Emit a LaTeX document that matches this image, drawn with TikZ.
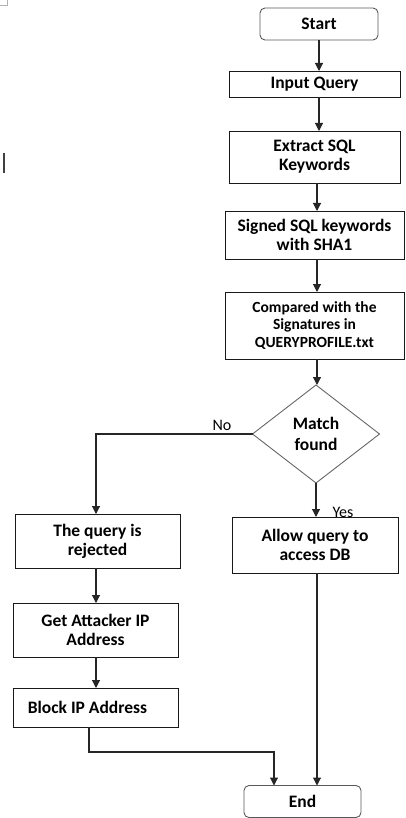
\documentclass[tikz,border=0pt]{standalone}
\usepackage{fontspec}
\setmainfont{Carlito}
\usetikzlibrary{shapes.geometric,arrows.meta}
\begin{document}
\begin{tikzpicture}[x=1pt,y=-1pt,
  every node/.style={inner sep=0pt, outer sep=0pt},
  procbox/.style={draw=black!90, line width=0.9pt, align=center,
    font=\bfseries\fontsize{17.5}{19}\selectfont},
  termbox/.style={draw=black!65, line width=0.9pt, rounded corners=5pt,
    align=center, font=\bfseries\fontsize{17.5}{19}\selectfont},
  decbox/.style={draw=black!60, line width=0.9pt, diamond, align=center,
    font=\bfseries\fontsize{17.5}{21}\selectfont},
  flow/.style={draw=black!85, line width=1.1pt,
    -{Triangle[width=8pt,length=8pt]}},
  branch/.style={font=\fontsize{16}{18}\selectfont}]
  \useasboundingbox (0,0) rectangle (405,818);

  % small marks at the left edge
  \draw[black!30, line width=0.6pt] (0,5) -- (7,5) -- (7,0);
  \draw[black!75, line width=1.5pt] (4,153) -- (4,173);

  % terminals
  \node[termbox, minimum width=118pt, minimum height=32pt] (start) at (319,24) {Start};
  \node[termbox, minimum width=117pt, minimum height=32pt] (end) at (302.5,801.5) {End};

  % main column
  \node[procbox, minimum width=171pt, minimum height=26pt] (input) at (314.5,84) {Input Query};
  \node[procbox, minimum width=171pt, minimum height=52pt] (extract) at (314.5,157) {Extract SQL\\Keywords};
  \node[procbox, minimum width=179pt, minimum height=48pt] (signed) at (314.5,235) {Signed SQL keywords\\with SHA1};
  \node[procbox, minimum width=179pt, minimum height=67pt,
        font=\bfseries\fontsize{15.5}{17.5}\selectfont] (compared) at (314.5,325.5)
        {Compared with the\\Signatures in\\QUERYPROFILE.txt};
  \node[decbox, minimum width=127pt, minimum height=98pt] (match) at (316,434) {Match\\found};
  \node[procbox, minimum width=166pt, minimum height=56pt] (allow) at (315,545) {Allow query to\\access DB};

  % rejection column
  \node[procbox, minimum width=165pt, minimum height=54pt] (reject) at (97.5,541) {The query is\\rejected};
  \node[procbox, minimum width=165pt, minimum height=54pt] (getip) at (95.5,630) {Get Attacker IP\\Address};
  \node[procbox, minimum width=165pt, minimum height=39pt] (block) at (95.5,707.5) {\hspace*{-16pt}Block IP Address};

  % branch labels
  \node[branch] (nolabel) at (222,425) {No};
  \node[branch] (yeslabel) at (343,512) {Yes};

  % connector columns
  \coordinate (colA) at (319,0);
  \coordinate (colB) at (317,0);
  \coordinate (colC) at (96,0);
  \coordinate (joint) at (89,752);

  % connectors
  \draw[flow] (start.south) -- (start.south |- input.north);
  \draw[flow] (input.south -| colA) -- (colA |- extract.north);
  \draw[flow] (extract.south -| colB) -- (colB |- signed.north);
  \draw[flow] (signed.south -| colB) -- (colB |- compared.north);
  \draw[flow] (compared.south -| colB) -- (colB |- match.north);
  \draw[flow] (match.west) -| (colC |- reject.north);
  \draw[flow] (match.south) -- (match.south |- allow.north);
  \draw[flow] (reject.south -| colC) -- (colC |- getip.north);
  \draw[flow] (getip.south -| colC) -- (colC |- block.north);
  \draw[flow] (joint |- block.south) -- (joint) -| ([xshift=-28.5pt]end.north);
  \draw[flow] (allow.south -| colB) -- (colB |- end.north);
\end{tikzpicture}
\end{document}
